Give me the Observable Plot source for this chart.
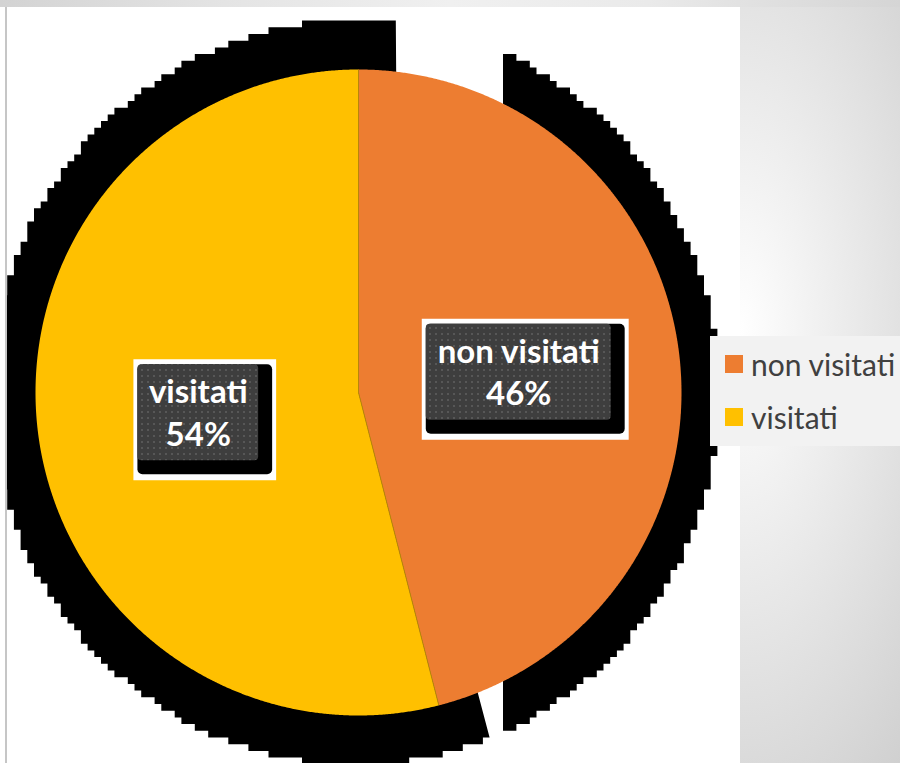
<!DOCTYPE html>
<html><head><meta charset="utf-8">
<script src="https://cdn.jsdelivr.net/npm/d3@7"></script>
<script src="https://cdn.jsdelivr.net/npm/@observablehq/plot@0.6"></script>
<style>
html,body{margin:0;padding:0;}
body{width:900px;height:763px;overflow:hidden;position:relative;
 background: radial-gradient(ellipse 300px 650px at 740px 330px, #ffffff 0%, #c8c8c8 100%);}
#topstrip{position:absolute;left:0;top:0;width:900px;height:7px;
 background:linear-gradient(to right,#d3d3d3 0%,#e4e4e4 25%,#f0f0f0 50%,#eaeaea 72%,#e2e2e2 82%,#d5d5d5 100%);}
#panel{position:absolute;left:0;top:7px;width:740px;height:756px;background:#fff;}
#edge{position:absolute;left:5px;top:7px;width:2px;height:756px;background:#c6c6c6;}
#chart{position:absolute;left:7px;top:7px;}
#legend{position:absolute;left:710px;top:336px;width:190px;height:110px;background:#f2f2f2;
 padding:1.5px 0 0 15px;box-sizing:border-box;}
.leg-swatch{height:53px !important;padding-bottom:0 !important;}
.leg-swatch > svg{margin-right:8px !important;}
.leg-swatches{margin:0 !important;}
</style></head>
<body>
<div id="topstrip"></div>
<div id="panel"></div>
<div id="edge"></div>
<div id="chart"></div>
<div id="legend"></div>
<script>
// ---- data ----
const categories = ["non visitati", "visitati"];
const percentages = [46, 54];
const sliceColors = ["#ED7D31", "#FFC000"];

// ---- layout (page px) ----
const W = 733, H = 756, OX = 7, OY = 7;
const CX = 358, CY = 392, R = 323;
const toU = ([px, py]) => [(px - CX) / R, (CY - py) / R];

const arcs = d3.pie().sort(null).value(d => d)(percentages);

// slices
const slicePts = [];
arcs.forEach((a, i) => {
  const key = categories[i];
  slicePts.push({key, x: 0, y: 0});
  const n = Math.ceil((a.endAngle - a.startAngle) / (Math.PI / 720));
  for (let k = 0; k <= n; k++) {
    const t = a.startAngle + (a.endAngle - a.startAngle) * k / n;
    slicePts.push({key, x: Math.sin(t), y: Math.cos(t)});
  }
});
const seps = arcs.map(a => ({x2: Math.sin(a.startAngle), y2: Math.cos(a.startAngle)}));

// shadow (pixelated rim behind the pie)
const SH = {cx: 355, cy: 392, rx: 364, ry: 372, step: 6.7, leftShift: 40, rightCut: 499};
function ellipse(filter) {
  const out = [], N = 3000;
  for (let k = 0; k < N; k++) {
    const f = 2 * Math.PI * k / N;
    const p = [SH.cx + SH.rx * Math.sin(f), SH.cy - SH.ry * Math.cos(f)];
    if (filter(p)) out.push({p, f});
  }
  return out;
}
function stairs(pts) {
  const s = SH.step;
  const q = pts.map(([x, y]) => [Math.round(x / s) * s, Math.round(y / s) * s]);
  const norm = ([x, y]) => ((x - SH.cx) / SH.rx) ** 2 + ((y - SH.cy) / SH.ry) ** 2;
  const out = [];
  for (const p of q) {
    const last = out[out.length - 1];
    if (last && last[0] === p[0] && last[1] === p[1]) continue;
    if (last && last[0] !== p[0] && last[1] !== p[1]) {
      const c1 = [p[0], last[1]], c2 = [last[0], p[1]];
      out.push(norm(c1) > norm(c2) ? c1 : c2);
    }
    out.push(p);
  }
  return out;
}
const apex = [CX + SH.leftShift, CY];
const angFrom = (p) => { let a = Math.atan2(p[0] - apex[0], apex[1] - p[1]); if (a < 0) a += 2 * Math.PI; return a; };
const leftArc = ellipse(p => angFrom(p) >= arcs[1].startAngle)
  .sort((u, v) => angFrom(u.p) - angFrom(v.p)).map(d => d.p);
const rightArc = ellipse(p => p[0] >= SH.rightCut).sort((u, v) => u.f - v.f).map(d => d.p);
const shadowPts = [];
[[apex, ...stairs(leftArc)], stairs(rightArc)].forEach((poly, i) =>
  poly.forEach(p => { const [x, y] = toU(p); shadowPts.push({part: i, x, y}); }));

// labels
const ctx = document.createElement("canvas").getContext("2d");
ctx.font = "bold 33px Lato";
const labels = arcs.map((a, i) => {
  const m = (a.startAngle + a.endAngle) / 2;
  const lines = [categories[i], `${percentages[i]}%`];
  const tw = Math.max(...lines.map(l => ctx.measureText(l).width));
  return {key: categories[i], text: lines.join("\n"),
    x: 0.5 * Math.sin(m), y: 0.5 * Math.cos(m), hw: (tw / 2 + 11) / R, hh: 48 / R};
});

const plot = Plot.plot({
  width: W, height: H, margin: 0,
  x: {domain: [(OX - CX) / R, (OX + W - CX) / R], axis: null},
  y: {domain: [(CY - OY - H) / R, (CY - OY) / R], axis: null},
  color: {domain: categories, range: sliceColors},
  marks: [
    Plot.line(shadowPts, {x: "x", y: "y", z: "part", fill: "black", stroke: "none", clip: true}),
    Plot.line(slicePts, {x: "x", y: "y", z: "key", fill: "key", stroke: "none"}),
    Plot.link(seps, {x1: () => 0, y1: () => 0, x2: "x2", y2: "y2", stroke: "#B8860B", strokeWidth: 1}),
    Plot.rect(labels, {x1: d => d.x - d.hw - 4 / R, x2: d => d.x + d.hw + 18 / R,
      y1: d => d.y - d.hh - 20 / R, y2: d => d.y + d.hh + 5 / R, fill: "white"}),
    Plot.rect(labels, {x1: d => d.x - d.hw, x2: d => d.x + d.hw + 14 / R,
      y1: d => d.y - d.hh - 14 / R, y2: d => d.y + d.hh, fill: "black", rx: 5}),
    Plot.rect(labels, {x1: d => d.x - d.hw, x2: d => d.x + d.hw,
      y1: d => d.y - d.hh, y2: d => d.y + d.hh, fill: "url(#dots)", rx: 4}),
    Plot.text(labels, {x: "x", y: "y", text: "text", fill: "white", fontFamily: "Lato",
      fontWeight: "bold", fontSize: 33, lineHeight: 1.3, dy: -2})
  ]
});
const defs = document.createElementNS("http://www.w3.org/2000/svg", "defs");
defs.innerHTML = '<pattern id="dots" width="6" height="6" patternUnits="userSpaceOnUse">' +
  '<rect width="6" height="6" fill="#3e3e3e"/><rect x="2" y="2" width="2" height="2" fill="#575757"/></pattern>';
plot.insertBefore(defs, plot.firstChild);
document.getElementById("chart").appendChild(plot);

const leg = Plot.legend({
  color: {type: "categorical", domain: categories, range: sliceColors},
  legend: "swatches", columns: 1, swatchSize: 18, className: "leg",
  style: {fontFamily: "Lato", fontSize: "30px", color: "#404040"}
});
document.getElementById("legend").appendChild(leg);
</script>
</body></html>
